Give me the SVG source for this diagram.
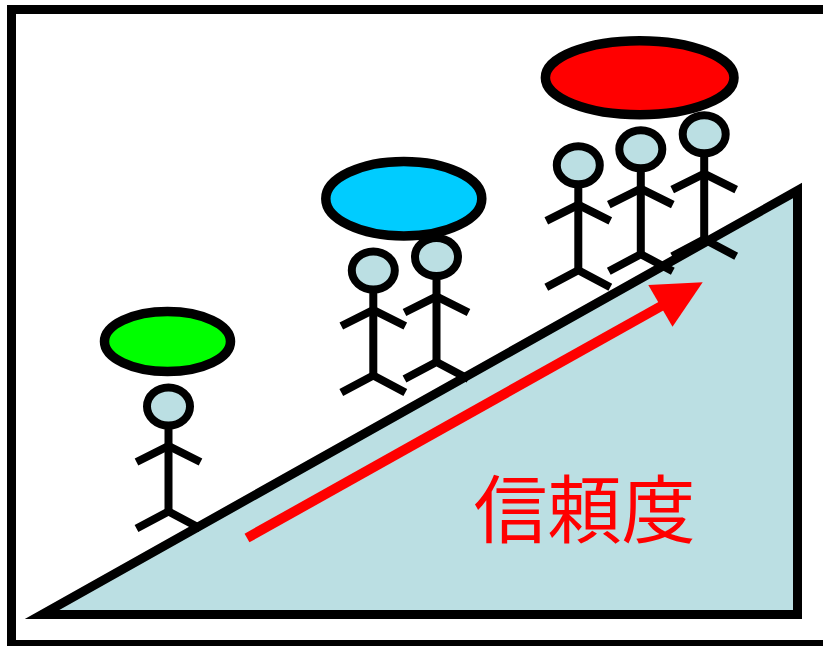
<svg xmlns="http://www.w3.org/2000/svg" xmlns:xlink="http://www.w3.org/1999/xlink" width="823" height="646" viewBox="0 0 823 646">
  <style>
    .frame { fill: #FFFFFF; stroke: #000000; stroke-width: 9; }
    .hill { fill: #BBDFE3; stroke: #000000; stroke-width: 9; stroke-linejoin: miter; stroke-miterlimit: 10; }
    .limb { fill: none; stroke: #000000; stroke-width: 8; stroke-linecap: butt; stroke-linejoin: miter; }
    .head { fill: #BBDFE3; stroke: #000000; stroke-width: 8; }
    .halo { stroke: #000000; stroke-width: 9.5; }
    .trend { stroke: #FF0000; stroke-width: 10; fill: none; }
    .trend-head { fill: #FF0000; }
    .label { font-family: "Noto Sans CJK JP", "Noto Sans CJK SC", sans-serif; font-size: 74px; fill: #FF0000; }
  </style>
  <defs>
    <!-- stick person, origin at the centre of the head -->
    <g id="person">
      <path class="limb" d="M0,19 V105"/>
      <polyline class="limb" points="-32,55.5 0,39.5 32,55.5"/>
      <polyline class="limb" points="-32,122 0,105 32,122"/>
      <ellipse class="head" cx="0" cy="0" rx="21.5" ry="19"/>
    </g>
  </defs>

  <!-- outer frame -->
  <rect class="frame" x="11.5" y="9.5" width="830" height="635"/>

  <!-- slope -->
  <g id="slope">
    <polygon class="hill" points="42,614.5 797.5,614.5 797.5,190.5"/>
  </g>

  <!-- low group -->
  <g id="group-low">
    <use xlink:href="#person" href="#person" transform="translate(168.5,406.5)"/>
    <ellipse class="halo" cx="167.5" cy="341.5" rx="63" ry="30" fill="#00FF00"/>
  </g>

  <!-- middle group -->
  <g id="group-mid">
    <use xlink:href="#person" href="#person" transform="translate(373.3,270.5)"/>
    <use xlink:href="#person" href="#person" transform="translate(436.5,257)"/>
    <ellipse class="halo" cx="403.8" cy="198.7" rx="78" ry="37.2" fill="#00CCFF"/>
  </g>

  <!-- high group -->
  <g id="group-high">
    <use xlink:href="#person" href="#person" transform="translate(578.3,165.3)"/>
    <use xlink:href="#person" href="#person" transform="translate(640.8,149.2)"/>
    <use xlink:href="#person" href="#person" transform="translate(704.2,134.2)"/>
    <ellipse class="halo" cx="639.7" cy="77.7" rx="94.3" ry="37" fill="#FF0000"/>
  </g>

  <!-- rising trend arrow -->
  <g id="connectors">
    <line class="trend" x1="247" y1="538" x2="664" y2="304.5"/>
    <polygon class="trend-head" points="648.3,285 702.7,282.3 672.5,326.7"/>
  </g>

  <text class="label" x="473.5" y="536.5">信頼度</text>
</svg>
